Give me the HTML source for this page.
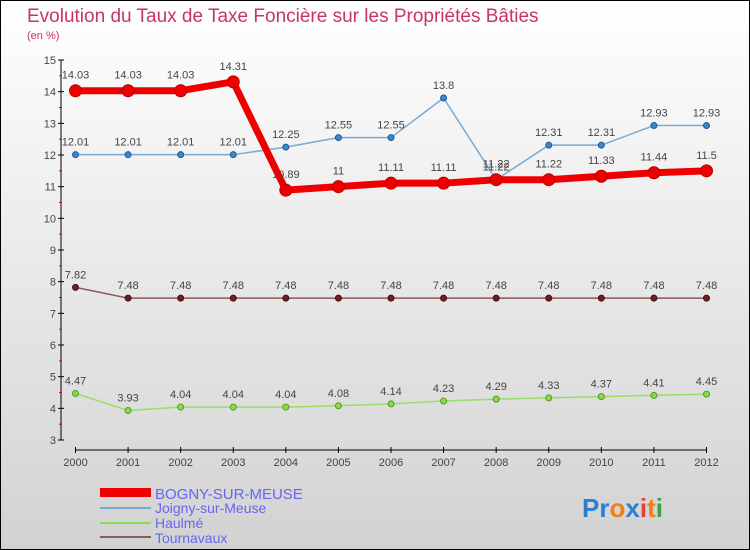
<!DOCTYPE html>
<html><head><meta charset="utf-8"><style>
body{margin:0;}
#wrap{width:750px;height:550px;position:relative;overflow:hidden;font-family:"Liberation Sans",sans-serif;}
svg text{font-family:"Liberation Sans",sans-serif;}
</style></head><body>
<div id="wrap">
<svg id="chart" width="750" height="550" xmlns="http://www.w3.org/2000/svg">
<defs><linearGradient id="bg" x1="0" y1="0" x2="0" y2="1"><stop offset="0" stop-color="#ffffff"/><stop offset="1" stop-color="#d2d2d2"/></linearGradient></defs>
<rect x="0.5" y="0.5" width="749" height="549" fill="url(#bg)" stroke="#000"/>
<text x="27" y="22" font-size="19" fill="#c8326e">Evolution du Taux de Taxe Foncière sur les Propriétés Bâties</text>
<text x="27" y="39" font-size="11" fill="#c8326e">(en %)</text>
<g id="axes"></g><g id="series"></g>
<g>
<rect x="100" y="488" width="51" height="9" fill="#e00"/>
<text x="155" y="499" font-size="15" fill="#6666ee">BOGNY-SUR-MEUSE</text>
<line x1="100" y1="508" x2="151" y2="508" stroke="#7aaad0" stroke-width="2"/>
<text x="155" y="513" font-size="14" fill="#6666ee">Joigny-sur-Meuse</text>
<line x1="100" y1="523" x2="151" y2="523" stroke="#88dd55" stroke-width="2"/>
<text x="155" y="528" font-size="14" fill="#6666ee">Haulmé</text>
<line x1="100" y1="537" x2="151" y2="537" stroke="#8b5a5a" stroke-width="2"/>
<text x="155" y="543" font-size="14" fill="#6666ee">Tournavaux</text>
</g>
<g font-size="26" font-weight="bold">
<text x="582" y="517"><tspan fill="#2a7fd4">Pr</tspan><tspan fill="#f08010">o</tspan><tspan fill="#2a7fd4">x</tspan><tspan fill="#e04040">i</tspan><tspan fill="#f08010">t</tspan><tspan fill="#40a040">i</tspan></text>
</g>
</svg></div>
<script>
const years=[2000,2001,2002,2003,2004,2005,2006,2007,2008,2009,2010,2011,2012];
const yTicks=[3,4,5,6,7,8,9,10,11,12,13,14,15];
const bogny=[14.03,14.03,14.03,14.31,10.89,11,11.11,11.11,11.22,11.22,11.33,11.44,11.5];
const joigny=[12.01,12.01,12.01,12.01,12.25,12.55,12.55,13.8,11.22,12.31,12.31,12.93,12.93];
const haulme=[4.47,3.93,4.04,4.04,4.04,4.08,4.14,4.23,4.29,4.33,4.37,4.41,4.45];
const tournavaux=[7.82,7.48,7.48,7.48,7.48,7.48,7.48,7.48,7.48,7.48,7.48,7.48,7.48];
const NS="http://www.w3.org/2000/svg";
const x=i=>75.5+i*(631/(years.length-1));
const y=v=>440-(v-3)*(380/12);
function mk(t,a,p){const e=document.createElementNS(NS,t);for(const k in a)e.setAttribute(k,a[k]);p.appendChild(e);return e;}
const ax=document.getElementById('axes');
const yl=mk('line',{x1:61,y1:y(15),x2:61,y2:y(3),stroke:'#000'},ax);


const xl=mk('line',{x1:75.5,y1:450,x2:706.5,y2:450,stroke:'#000'},ax);


yTicks.forEach(v=>{
 mk('line',{x1:58,y1:y(v),x2:64,y2:y(v),stroke:'#000'},ax);
 if(v<15)mk('line',{x1:59,y1:y(v+0.5),x2:62,y2:y(v+0.5),stroke:'#e00'},ax);
 const t=mk('text',{x:56,y:y(v)+4,'font-size':11,'text-anchor':'end',fill:'#444'},ax);
 
 
 t.textContent=v;
});
years.forEach((yr,i)=>{
 mk('line',{x1:x(i),y1:447,x2:x(i),y2:453,stroke:'#000'},ax);
 const t=mk('text',{x:x(i),y:466,'font-size':11,'text-anchor':'middle',fill:'#444'},ax);
 
 
 t.textContent=yr;
});
const sg=document.getElementById('series');
function draw(vals,name,col,w,r,fill,stroke){
 const g=mk('g',{},sg);
 
 
 const pl=mk('polyline',{points:vals.map((v,i)=>x(i)+','+y(v)).join(' '),fill:'none',stroke:col,'stroke-width':w,'stroke-linejoin':'round'},g);
 
 
 vals.forEach((v,i)=>{
  const c=mk('circle',{cx:x(i),cy:y(v),r:r,fill:fill,stroke:stroke,'stroke-width':1},g);
  
  
  const t=mk('text',{x:x(i),y:y(v)-r-6,'font-size':11,'text-anchor':'middle',fill:'#444'},g);
  
  
  t.textContent=String(v);
 });
}
draw(tournavaux,'tournavaux','#8b5a5a',1.5,3,'#6b2020','#4a1010');
draw(haulme,'haulme','#99dd66',1.5,3,'#88dd44','#559922');
draw(joigny,'joigny','#7aaad0',1.5,3,'#3a88cc','#1a5a99');
draw(bogny,'bogny','#ee0000',7,6,'#ee0000','#bb0000');
</script>
</body></html>
